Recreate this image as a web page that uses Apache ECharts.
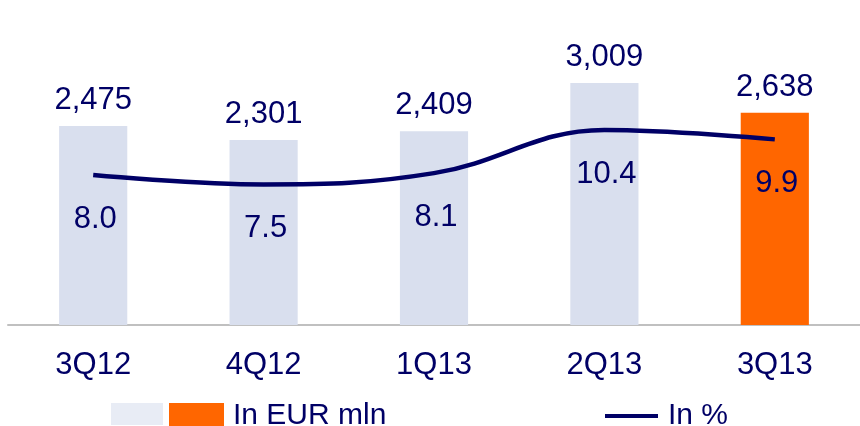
<!DOCTYPE html>
<html>
<head>
<meta charset="utf-8">
<script src="https://cdn.jsdelivr.net/npm/echarts@6/dist/echarts.min.js"></script>
<style>html,body{margin:0;padding:0;background:#fff}#c{width:860px;height:426px}</style>
</head>
<body>
<div id="c"></div>
<script>
const categories = ['3Q12', '4Q12', '1Q13', '2Q13', '3Q13'];
const eurMlnPast = [2475, 2301, 2409, 3009, null];
const eurMlnCurrent = [null, null, null, null, 2638];
const inPercent = [8.0, 7.5, 8.1, 10.4, 9.9];

const NAVY = '#000066';
const FONT = 'Liberation Sans, Arial, sans-serif';
const toD = a => a.map(v => v == null ? '-' : v);

const chart = echarts.init(document.getElementById('c'), null, {renderer: 'canvas'});
const barLabel = {
  show: true, position: 'top', distance: 10,
  color: NAVY, fontSize: 31, fontFamily: FONT,
  formatter: p => Number(p.value).toLocaleString('en-US')
};
chart.setOption({
  animation: false,
  backgroundColor: '#fff',
  grid: {left: 8, right: -6, top: 25, bottom: 101},
  xAxis: {
    type: 'category', data: categories,
    axisLine: {lineStyle: {color: '#c0c0c0', width: 2}},
    axisTick: {show: false},
    axisLabel: {color: NAVY, fontSize: 31, fontFamily: FONT, margin: 25}
  },
  yAxis: [
    {type: 'value', min: 0, max: 3730, show: false, splitLine: {show: false}},
    {type: 'value', min: 0, max: 16, show: false, splitLine: {show: false}}
  ],
  legend: [
    {left: 111, top: 403, padding: 0, itemWidth: 52, itemHeight: 22, icon: 'rect',
     data: [{name: 'light', itemStyle: {color: '#E8ECF5'}}], formatter: () => '',
     textStyle: {fontSize: 30, fontFamily: FONT}},
    {left: 169, top: 401, padding: 0, itemWidth: 55, itemHeight: 26, icon: 'rect',
     data: ['In EUR mln'],
     textStyle: {color: NAVY, fontSize: 30, fontFamily: FONT, padding: [0, 0, 0, 4]}},
    {left: 605, top: 401, padding: 0, itemWidth: 53, itemHeight: 4, icon: 'rect',
     data: ['In %'],
     textStyle: {color: NAVY, fontSize: 30, fontFamily: FONT, padding: [0, 0, 0, 5]}}
  ],
  series: [
    {name: 'light', type: 'bar', stack: 'b', data: toD(eurMlnPast), barWidth: '40%',
     itemStyle: {color: '#D9DFEE'}, label: barLabel},
    {name: 'In EUR mln', type: 'bar', stack: 'b', data: toD(eurMlnCurrent), barWidth: '40%',
     itemStyle: {color: '#FF6600'}, label: barLabel},
    {name: 'In %', type: 'line', yAxisIndex: 1, data: inPercent, smooth: 0.4,
     symbol: 'circle', symbolSize: 0.1, showSymbol: true, z: 5,
     lineStyle: {color: NAVY, width: 4.5}, itemStyle: {color: NAVY},
     label: {show: true, position: 'inside', offset: [2, 44], color: NAVY, fontSize: 31, fontFamily: FONT,
             formatter: p => Number(p.value).toFixed(1)}}
  ]
});
</script>
</body>
</html>
